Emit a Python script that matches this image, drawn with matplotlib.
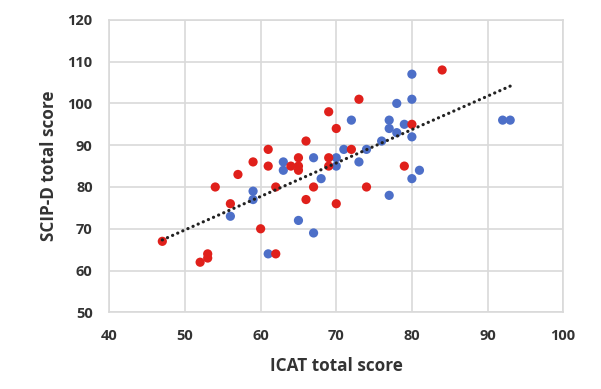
import numpy as np
import matplotlib
matplotlib.use('Agg')
import matplotlib.pyplot as plt

plt.rcParams['font.family'] = ['Open Sans', 'DejaVu Sans']

blue_x = [56, 59, 59, 61, 63, 63, 65, 67, 67, 68, 70, 70, 71, 72, 73, 74, 76, 77, 77, 78,
          79, 78, 77, 80, 80, 80, 80, 81, 92, 93]
blue_y = [73, 79, 77, 64, 86, 84, 72, 87, 69, 82, 87, 85, 89, 96, 86, 89, 91, 96, 94, 93,
          95, 100, 78, 107, 101, 92, 82, 84, 96, 96]

red_x = [47, 52, 53, 53, 54, 56, 57, 59, 60, 61, 61, 62, 62, 64, 65, 65, 65, 66, 66, 67,
         69, 69, 69, 70, 70, 72, 73, 74, 79, 80, 84]
red_y = [67, 62, 64, 63, 80, 76, 83, 86, 70, 89, 85, 80, 64, 85, 87, 85, 84, 91, 77, 80,
         98, 87, 85, 94, 76, 89, 101, 80, 85, 95, 108]

x_ticks = [40, 50, 60, 70, 80, 90, 100]
y_ticks = [50, 60, 70, 80, 90, 100, 110, 120]

fig = plt.figure(figsize=(6.01, 3.89), dpi=100)
ax = fig.add_axes([0.182, 0.197, 0.755, 0.752])

ax.scatter(blue_x, blue_y, s=44, color='#4D6FC8', edgecolors='none', zorder=3)
ax.scatter(red_x, red_y, s=44, color='#E0201B', edgecolors='none', zorder=3)

# linear trend over all points
all_x = np.array(blue_x + red_x)
all_y = np.array(blue_y + red_y)
k, b = np.polyfit(all_x, all_y, 1)
tx = np.array([all_x.min(), all_x.max()])
ax.plot(tx, k * tx + b, color='#222222', lw=2.3, ls=(0, (0.05, 1.7)),
        dash_capstyle='round', zorder=4)

ax.set_xlim(40, 100)
ax.set_ylim(50, 120)
ax.set_xticks(x_ticks)
ax.set_yticks(y_ticks)
ax.grid(True, color='#D9D9D9', lw=1.2)
ax.set_axisbelow(True)
for s in ax.spines.values():
    s.set_color('#D9D9D9')
    s.set_linewidth(1.2)
ax.tick_params(length=0, labelsize=10.5, colors='#333333', pad=12)
for lab in ax.get_xticklabels() + ax.get_yticklabels():
    lab.set_fontweight('bold')

ax.set_xlabel('ICAT total score', fontsize=12.3, fontweight='bold', color='#333333', labelpad=10)
ax.set_ylabel('SCIP-D total score', fontsize=12.3, fontweight='bold', color='#333333', labelpad=7)

fig.savefig('out.png', dpi=100)
